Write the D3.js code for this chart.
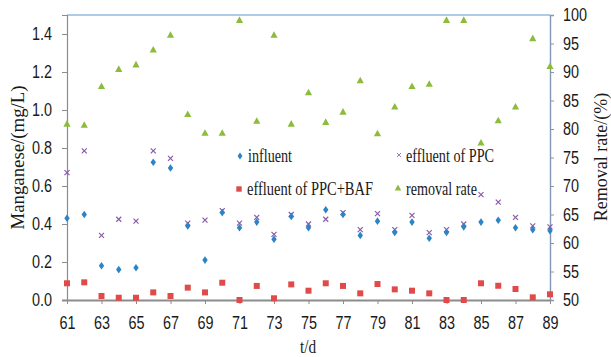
<!DOCTYPE html>
<html>
<head>
<meta charset="utf-8">
<script src="https://cdn.jsdelivr.net/npm/d3@7"></script>
<style>
  html, body { margin: 0; padding: 0; background: #fff; }
  svg { display: block; font-family: "Liberation Serif", "Times New Roman", "DejaVu Serif", serif; }
</style>
</head>
<body>
<svg id="chart" width="611" height="357"></svg>
<script>
"use strict";

// ── Data ────────────────────────────────────────────────────────────────
const days = d3.range(61, 90);
const influent = [0.43, 0.45, 0.18, 0.16, 0.17, 0.725, 0.695, 0.39, 0.21, 0.46,
  0.38, 0.41, 0.32, 0.44, 0.38, 0.475, 0.45, 0.34, 0.415, 0.355,
  0.41, 0.325, 0.355, 0.385, 0.41, 0.42, 0.38, 0.37, 0.365];
const effluentPPC = [0.67, 0.785, 0.34, 0.425, 0.415, 0.785, 0.745, 0.405, 0.42, 0.47,
  0.405, 0.435, 0.345, 0.45, 0.40, 0.425, 0.46, 0.37, 0.455, 0.37,
  0.445, 0.355, 0.37, 0.40, 0.555, 0.515, 0.435, 0.39, 0.385];
const effluentBAF = [0.088, 0.093, 0.021, 0.012, 0.012, 0.04, 0.021, 0.065, 0.04, 0.091,
  0.0, 0.074, 0.009, 0.082, 0.049, 0.088, 0.074, 0.035, 0.084, 0.056,
  0.049, 0.035, 0.0, 0.0, 0.088, 0.075, 0.058, 0.014, 0.03];
const removalRate = [80.9, 80.7, 87.5, 90.5, 91.3, 93.9, 96.5, 82.6, 79.3, 79.3,
  99.1, 81.4, 96.5, 80.9, 86.4, 81.2, 83.0, 88.5, 79.2, 83.9,
  87.5, 87.9, 99.1, 99.1, 77.6, 81.5, 83.9, 95.9, 91.0];

const xTicks = d3.range(61, 90, 2);
const leftTicks = [0, 0.2, 0.4, 0.6, 0.8, 1.0, 1.2, 1.4];
const rightTicks = [50, 55, 60, 65, 70, 75, 80, 85, 90, 95, 100];

const colors = { influent: "#2a84c6", ppc: "#8a5ba8", baf: "#e04a4a", rate: "#8dbb3d" };

// ── Layout ──────────────────────────────────────────────────────────────
const margin = { top: 15, right: 61, bottom: 57, left: 67 };
const totalW = 611, totalH = 357;
const W = totalW - margin.left - margin.right;
const H = totalH - margin.top - margin.bottom;

const svg = d3.select("#chart");
const g = svg.append("g").attr("transform", `translate(${margin.left},${margin.top})`);

const x = d3.scaleLinear().domain([61, 89]).range([0, W]);
const yL = d3.scaleLinear().domain([0, 1.5]).range([H, 0]);
const yR = d3.scaleLinear().domain([50, 100]).range([H, 0]);

// squeeze serif text horizontally (reference font is narrow)
function squeeze(sel, f) {
  sel.each(function() {
    const len = this.getComputedTextLength();
    d3.select(this).attr("textLength", len * f).attr("lengthAdjust", "spacingAndGlyphs");
  });
}

// top frame line
g.append("line").attr("x1", 0).attr("x2", W).attr("y1", 0).attr("y2", 0)
  .attr("stroke", "#5b9bd5").attr("stroke-width", 1.2);

// ── Axes ────────────────────────────────────────────────────────────────
const axL = g.append("g")
  .call(d3.axisLeft(yL).tickValues(leftTicks).tickFormat(d3.format(".1f")).tickSize(5).tickPadding(10));
axL.select(".domain").attr("stroke", "#8c8c8c").attr("stroke-width", 1.2);
axL.selectAll(".tick line").attr("stroke", "#8c8c8c");

const axR = g.append("g").attr("transform", `translate(${W},0)`)
  .call(d3.axisRight(yR).tickValues(rightTicks).tickSize(4).tickPadding(9));
axR.select(".domain").attr("stroke", "#8497b0").attr("stroke-width", 1.4);
axR.selectAll(".tick line").attr("stroke", "#8497b0");

const axB = g.append("g").attr("transform", `translate(0,${H})`)
  .call(d3.axisBottom(x).tickValues(xTicks).tickFormat(d3.format("d")).tickSize(4).tickPadding(12).tickSizeOuter(0));
axB.select(".domain").attr("stroke", "#8c8c8c").attr("stroke-width", 2)
  .attr("d", `M-5,0.5H${W}`);
axB.selectAll(".tick line").attr("stroke", "#8c8c8c");

[axL, axR, axB].forEach(ax => {
  ax.selectAll(".tick text").attr("font-size", 18).attr("fill", "#1a1a1a")
    .attr("font-family", null);
  squeeze(ax.selectAll(".tick text"), 0.8);
});

// axis titles
g.append("text").attr("transform", `translate(${-50},${(230 - 15 + 85 - 15) / 2}) rotate(-90)`)
  .attr("text-anchor", "middle").attr("dy", "0.35em")
  .attr("font-size", 19).attr("fill", "#1a1a1a").text("Manganese/(mg/L)")
  .call(squeeze, 0.99);

g.append("text").attr("transform", `translate(${601 - margin.left},${157 - margin.top}) rotate(-90)`)
  .attr("text-anchor", "middle").attr("dy", "0.35em")
  .attr("font-size", 18).attr("fill", "#1a1a1a").text("Removal rate/(%)")
  .call(squeeze, 1.0);

g.append("text").attr("x", 308 - margin.left).attr("y", 353 - margin.top)
  .attr("text-anchor", "middle").attr("font-size", 18).attr("fill", "#1a1a1a").text("t/d")
  .call(squeeze, 0.85);

// ── Marks ───────────────────────────────────────────────────────────────
const diamond = "M0,-3.8L2.7,0L0,3.8L-2.7,0Z";
const square = "M-3,-3H3V3H-3Z";
const tri = "M0,-3.8L3.6,2.8H-3.6Z";
const cross = "M-2.5,-2.5L2.5,2.5M-2.5,2.5L2.5,-2.5";

function drawSeries(vals, yScale, path, color, stroked) {
  g.append("g").selectAll("path").data(vals).join("path")
    .attr("transform", (d, i) => `translate(${x(days[i])},${yScale(d)})`)
    .attr("d", path)
    .attr("fill", stroked ? "none" : color)
    .attr("stroke", stroked ? color : "none")
    .attr("stroke-width", stroked ? 1.2 : 0);
}

drawSeries(removalRate, yR, tri, colors.rate, false);
drawSeries(effluentBAF, yL, square, colors.baf, false);
drawSeries(effluentPPC, yL, cross, colors.ppc, true);
drawSeries(influent, yL, diamond, colors.influent, false);

// ── Legend ──────────────────────────────────────────────────────────────
const legendItems = [
  { label: "influent", path: diamond, color: colors.influent, stroked: false, mx: 240, my: 156, tx: 248, ty: 162, w: 44 },
  { label: "effluent of PPC", path: cross, color: colors.ppc, stroked: true, mx: 399, my: 155, tx: 406, ty: 162, w: 88 },
  { label: "effluent of PPC+BAF", path: square, color: colors.baf, stroked: false, mx: 239, my: 189, tx: 247, ty: 195, w: 126 },
  { label: "removal rate", path: tri, color: colors.rate, stroked: false, mx: 398, my: 188, tx: 406, ty: 195, w: 71 }
];

const leg = svg.append("g");
legendItems.forEach(it => {
  leg.append("path")
    .attr("d", it.path)
    .attr("fill", it.stroked ? "none" : it.color)
    .attr("stroke", it.stroked ? it.color : "none")
    .attr("stroke-width", it.stroked ? 1 : 0)
    .attr("transform", `translate(${it.mx},${it.my}) scale(${it.stroked ? 0.8 : 0.9})`);
  leg.append("text").attr("x", it.tx).attr("y", it.ty)
    .attr("font-size", 18).attr("fill", "#1a1a1a")
    .attr("textLength", it.w).attr("lengthAdjust", "spacingAndGlyphs")
    .text(it.label);
});
</script>
</body>
</html>
